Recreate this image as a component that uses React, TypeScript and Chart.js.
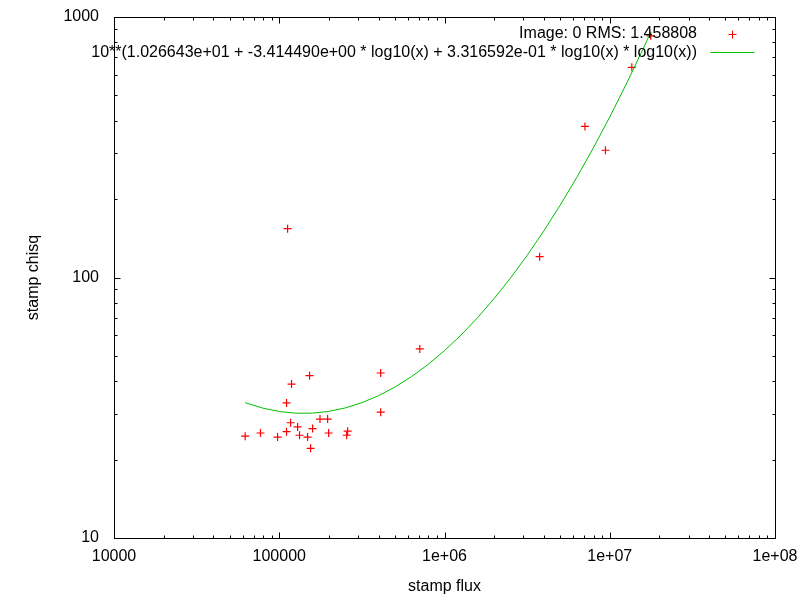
import { useEffect, useRef } from "react";
import { Chart, registerables, type ChartConfiguration, type Plugin } from "chart.js";

Chart.register(...registerables);

const FONT = "'Liberation Sans', Arial, sans-serif";

// measured stamps: flux vs chisq
const stampFlux = [
  62200, 77000, 97700, 110700, 117100, 118700, 152600, 110700, 129100, 132700,
  148400, 159100, 154800, 176400, 196200, 199000, 259400, 255800, 411100, 411100,
  112300, 708600, 3765000, 7080000, 9420000, 13600000, 17700000,
];
const stampChisq = [
  24.6, 25.3, 24.4, 25.6, 27.7, 39.0, 42.0, 33.0, 26.7, 24.8,
  24.4, 26.3, 22.1, 28.6, 28.6, 25.3, 25.7, 24.8, 43.0, 30.4,
  153.9, 53.2, 120.2, 380, 308, 641, 847,
];

// fitted curve
const fitFlux = [
  62200, 79430, 100000, 125900, 158500, 199500, 251200, 316200, 398100, 501200,
  631000, 794300, 1000000, 1259000, 1585000, 1995000, 2512000, 3162000, 3981000,
  5012000, 6310000, 7943000, 10000000, 12590000, 15850000, 17700000,
];
const fitChisq = [
  33.08, 31.52, 30.59, 30.14, 30.15, 30.62, 31.58, 33.07, 35.16, 37.97,
  41.64, 46.35, 52.39, 60.12, 70.08, 82.93, 99.64, 121.6, 150.6,
  189.5, 242.0, 313.9, 413.3, 552.7, 750.5, 873.7,
];

const xTickValues = [1e4, 1e5, 1e6, 1e7, 1e8];
const xTickLabels = ["10000", "100000", "1e+06", "1e+07", "1e+08"];
const yTickValues = [10, 100, 1000];
const yTickLabels = ["10", "100", "1000"];
const minorSteps = [2, 3, 4, 5, 6, 7, 8, 9];

const pointLabel = "Image: 0 RMS: 1.458808";
const fitLabel =
  "10**(1.026643e+01 + -3.414490e+00 * log10(x) + 3.316592e-01 * log10(x) * log10(x))";

const RED = "#ff0000";
const GREEN = "#00c000";

// gnuplot-like box with inward ticks on all sides
const framePlugin: Plugin = {
  id: "frame",
  afterDatasetsDraw(chart) {
    const { ctx, chartArea: a } = chart;
    const xs = chart.scales.x;
    const ys = chart.scales.y;
    const left = Math.round(a.left) + 0.5;
    const right = Math.round(a.right) + 0.5;
    const top = Math.round(a.top) + 0.5;
    const bottom = Math.round(a.bottom) + 0.5;
    ctx.save();
    ctx.strokeStyle = "#000";
    ctx.lineWidth = 1;
    ctx.beginPath();
    const xTick = (v: number, len: number) => {
      const px = Math.round(xs.getPixelForValue(v)) + 0.5;
      ctx.moveTo(px, bottom);
      ctx.lineTo(px, bottom - len);
      ctx.moveTo(px, top);
      ctx.lineTo(px, top + len);
    };
    const yTick = (v: number, len: number) => {
      const py = Math.round(ys.getPixelForValue(v)) + 0.5;
      ctx.moveTo(left, py);
      ctx.lineTo(left + len, py);
      ctx.moveTo(right, py);
      ctx.lineTo(right - len, py);
    };
    xTickValues.forEach((v, i) => {
      xTick(v, 6);
      if (i < xTickValues.length - 1) minorSteps.forEach((m) => xTick(v * m, 3));
    });
    yTickValues.forEach((v, i) => {
      yTick(v, 6);
      if (i < yTickValues.length - 1) minorSteps.forEach((m) => yTick(v * m, 3));
    });
    ctx.stroke();
    ctx.strokeRect(left, top, right - left, bottom - top);
    ctx.restore();
  },
};

// key in the top-right corner, text right-aligned with the sample after it
const keyPlugin: Plugin = {
  id: "key",
  afterDraw(chart) {
    const { ctx, chartArea: a } = chart;
    const textRight = a.right - 78;
    const sampleX = Math.round(a.right - 43) + 0.5;
    ctx.save();
    ctx.font = `16px ${FONT}`;
    ctx.fillStyle = "#000";
    ctx.textAlign = "right";
    ctx.textBaseline = "middle";
    const row1 = a.top + 16.5;
    const row2 = a.top + 35.5;
    ctx.fillText(chart.data.datasets[0].label ?? "", textRight, row1);
    ctx.fillText(chart.data.datasets[1].label ?? "", textRight, row2);
    ctx.lineWidth = 1;
    ctx.strokeStyle = RED;
    ctx.beginPath();
    ctx.moveTo(sampleX - 4, row1 + 1);
    ctx.lineTo(sampleX + 4, row1 + 1);
    ctx.moveTo(sampleX, row1 - 3);
    ctx.lineTo(sampleX, row1 + 5);
    ctx.stroke();
    ctx.strokeStyle = GREEN;
    ctx.beginPath();
    ctx.moveTo(sampleX - 22, row2);
    ctx.lineTo(sampleX + 22, row2);
    ctx.stroke();
    ctx.restore();
  },
};

export default function App() {
  const canvasRef = useRef<HTMLCanvasElement | null>(null);

  useEffect(() => {
    const canvas = canvasRef.current;
    if (!canvas) return;
    const font = { family: FONT, size: 16 };

    const config: ChartConfiguration = {
      type: "scatter",
      data: {
        datasets: [
          {
            label: pointLabel,
            data: stampFlux.map((x, i) => ({ x, y: stampChisq[i] })),
            pointStyle: "cross",
            pointRadius: 4,
            borderColor: RED,
            backgroundColor: RED,
            borderWidth: 1.2,
            showLine: false,
            order: 2,
          },
          {
            label: fitLabel,
            data: fitFlux.map((x, i) => ({ x, y: fitChisq[i] })),
            showLine: true,
            pointRadius: 0,
            borderColor: GREEN,
            backgroundColor: GREEN,
            borderWidth: 1,
            tension: 0,
            order: 1,
          },
        ],
      },
      options: {
        responsive: false,
        animation: false,
        events: [],
        layout: { autoPadding: false, padding: { top: 17, right: 25, left: 0, bottom: 0 } },
        plugins: {
          legend: { display: false },
          tooltip: { enabled: false },
        },
        scales: {
          x: {
            type: "logarithmic",
            position: "bottom",
            min: 1e4,
            max: 1e8,
            grid: { display: false, drawTicks: false },
            border: { display: false },
            afterBuildTicks: (axis) => {
              axis.ticks = xTickValues.map((value) => ({ value }));
            },
            afterFit: (axis) => {
              axis.height = 62;
              axis.paddingLeft = 0;
              axis.paddingRight = 0;
            },
            ticks: {
              font,
              color: "#000",
              padding: 9,
              maxRotation: 0,
              autoSkip: false,
              callback: (value) => xTickLabels[xTickValues.indexOf(Number(value))] ?? "",
            },
            title: {
              display: true,
              text: "stamp flux",
              font,
              color: "#000",
              padding: { top: 0, bottom: 4 },
            },
          },
          y: {
            type: "logarithmic",
            position: "left",
            min: 10,
            max: 1000,
            grid: { display: false, drawTicks: false },
            border: { display: false },
            afterBuildTicks: (axis) => {
              axis.ticks = yTickValues.map((value) => ({ value }));
            },
            afterFit: (axis) => {
              axis.width = 114;
              axis.paddingTop = 0;
              axis.paddingBottom = 0;
            },
            ticks: {
              font,
              color: "#000",
              padding: 15,
              autoSkip: false,
              callback: (value) => yTickLabels[yTickValues.indexOf(Number(value))] ?? "",
            },
            title: {
              display: true,
              text: "stamp chisq",
              font,
              color: "#000",
              padding: { top: 24, bottom: 0 },
            },
          },
        },
      },
      plugins: [framePlugin, keyPlugin],
    };

    const chart = new Chart(canvas, config);
    return () => chart.destroy();
  }, []);

  return (
    <div style={{ position: "fixed", left: 0, top: 0, width: 800, height: 600, background: "#fff" }}>
      <canvas ref={canvasRef} width={800} height={600} style={{ display: "block" }} />
    </div>
  );
}
